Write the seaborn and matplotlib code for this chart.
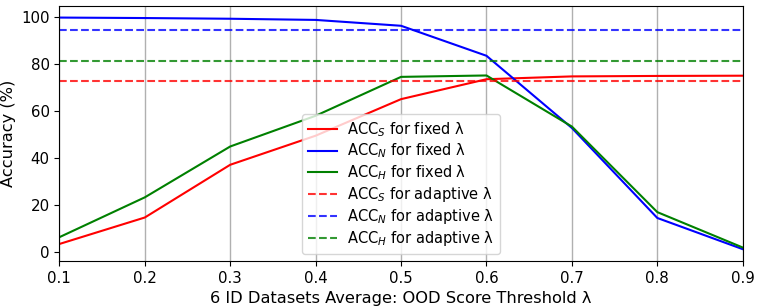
import matplotlib
matplotlib.use("Agg")
import matplotlib.pyplot as plt
import seaborn as sns
import pandas as pd

thresholds = [0.1, 0.2, 0.3, 0.4, 0.5, 0.6, 0.7, 0.8, 0.9]
acc_s_fixed = [3.3, 14.6, 37.1, 49.5, 65.1, 73.6, 74.8, 75.0, 75.1]
acc_n_fixed = [99.9, 99.7, 99.4, 98.9, 96.4, 83.6, 52.8, 14.4, 1.1]
acc_h_fixed = [6.2, 23.2, 44.9, 58.0, 74.6, 75.2, 53.4, 16.9, 1.8]
acc_s_adaptive = 72.8
acc_n_adaptive = 94.8
acc_h_adaptive = 81.4

tick_labels = ["0.1", "0.2", "0.3", "0.4", "0.5", "0.6", "0.7", "0.8", "0.9"]

df = pd.DataFrame({"t": thresholds, "S": acc_s_fixed, "N": acc_n_fixed, "H": acc_h_fixed})

fig, ax = plt.subplots(figsize=(7.61, 3.08), dpi=100)

sns.lineplot(data=df, x="t", y="S", color="red", lw=1.5, ax=ax, label=r"ACC$_S$ for fixed λ")
sns.lineplot(data=df, x="t", y="N", color="blue", lw=1.5, ax=ax, label=r"ACC$_N$ for fixed λ")
sns.lineplot(data=df, x="t", y="H", color="green", lw=1.5, ax=ax, label=r"ACC$_H$ for fixed λ")
ax.axhline(acc_s_adaptive, color="red", ls="--", lw=1.5, alpha=0.8, label=r"ACC$_S$ for adaptive λ")
ax.axhline(acc_n_adaptive, color="blue", ls="--", lw=1.5, alpha=0.8, label=r"ACC$_N$ for adaptive λ")
ax.axhline(acc_h_adaptive, color="green", ls="--", lw=1.5, alpha=0.8, label=r"ACC$_H$ for adaptive λ")

ax.set_xlim(0.1, 0.9)
ax.set_ylim(-3.9, 104.9)
ax.set_xticks(thresholds)
ax.set_xticklabels(tick_labels)
ax.set_yticks([0, 20, 40, 60, 80, 100])
ax.tick_params(labelsize=10.8)
ax.grid(axis="x", color="#b0b0b0", lw=1)
ax.grid(axis="y", visible=False)
ax.set_xlabel("6 ID Datasets Average: OOD Score Threshold λ", fontsize=11.7)
ax.set_ylabel("Accuracy (%)", fontsize=11.7)
ax.legend(loc="lower center", fontsize=10.5, handlelength=2.0, labelspacing=0.2,
          handletextpad=0.7)

fig.subplots_adjust(left=0.078, right=0.976, top=0.981, bottom=0.153)
fig.savefig("out.png", dpi=100)
